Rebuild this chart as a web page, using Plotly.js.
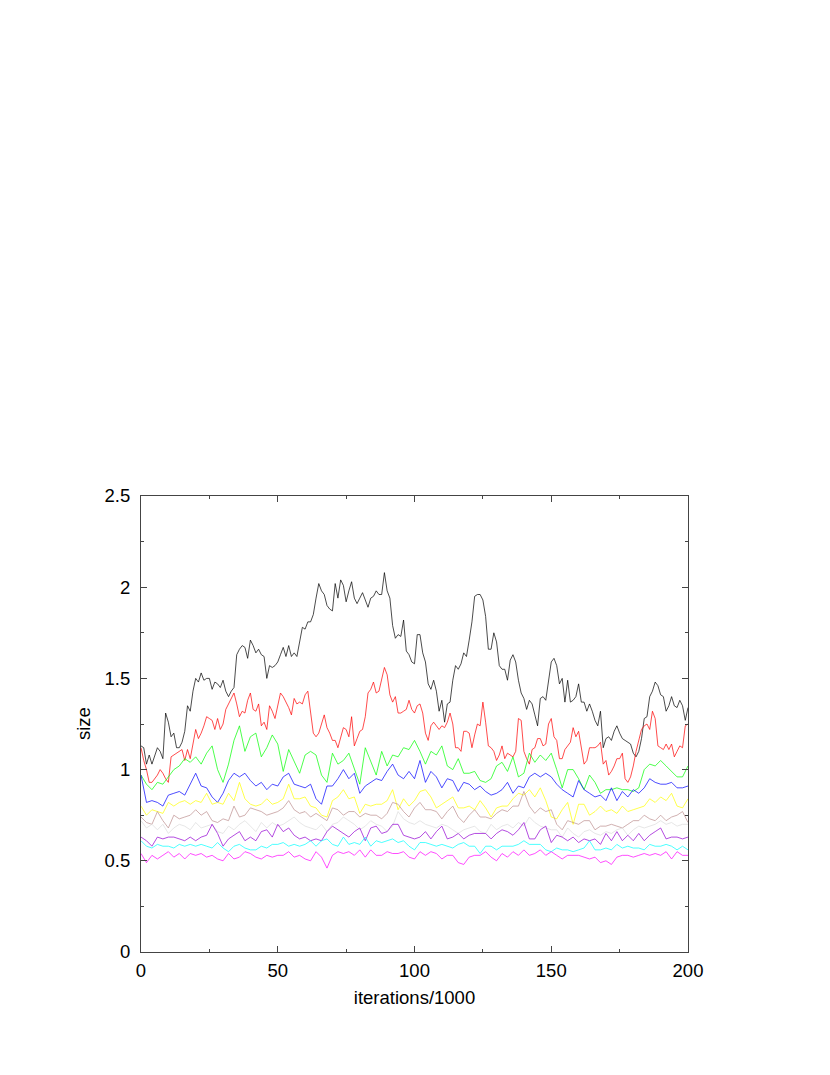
<!DOCTYPE html>
<html>
<head>
<meta charset="utf-8">
<script src="https://cdn.plot.ly/plotly-3.0.1.min.js"></script>
<style>html,body{margin:0;padding:0;background:#fff;}#chart{width:830px;height:1075px;}</style>
</head>
<body>
<div id="chart"></div>
<script>
// sampling: fine series every 1 (x1000 iterations), coarse series every 2
const fineStep = 1;
const coarseStep = 2;

const blackVals = [1.13,1.12,1.03,1.08,1.03,1.07,1.12,1.10,1.06,1.31,
1.26,1.18,1.20,1.12,1.12,1.15,1.21,1.35,1.32,1.43,
1.50,1.48,1.53,1.49,1.50,1.50,1.44,1.48,1.47,1.45,
1.49,1.43,1.40,1.43,1.45,1.63,1.66,1.68,1.67,1.61,
1.71,1.68,1.64,1.66,1.63,1.62,1.50,1.57,1.56,1.57,
1.59,1.63,1.67,1.62,1.68,1.62,1.64,1.62,1.70,1.78,
1.77,1.81,1.81,1.85,1.94,2.02,1.98,1.96,1.90,1.88,
1.87,2.02,1.94,2.04,2.01,1.92,1.98,2.03,1.94,1.91,
1.94,1.97,1.93,1.89,1.94,1.95,1.98,1.96,1.96,2.08,
1.98,1.94,1.79,1.72,1.74,1.73,1.82,1.65,1.63,1.59,
1.58,1.74,1.74,1.64,1.59,1.47,1.44,1.49,1.43,1.32,
1.38,1.26,1.36,1.37,1.49,1.57,1.55,1.58,1.64,1.62,
1.71,1.81,1.95,1.96,1.96,1.93,1.84,1.66,1.66,1.75,
1.70,1.57,1.55,1.55,1.49,1.60,1.63,1.59,1.49,1.42,
1.39,1.33,1.38,1.36,1.30,1.24,1.39,1.40,1.38,1.48,
1.59,1.61,1.57,1.47,1.50,1.37,1.49,1.37,1.38,1.40,
1.47,1.37,1.37,1.32,1.36,1.32,1.27,1.24,1.32,1.12,
1.17,1.18,1.16,1.21,1.24,1.20,1.17,1.16,1.15,1.14,
1.09,1.07,1.10,1.17,1.28,1.29,1.40,1.43,1.48,1.46,
1.41,1.40,1.32,1.35,1.40,1.35,1.34,1.38,1.35,1.27,
1.34];

const redVals = [1.12,1.05,1.00,0.93,0.93,0.95,0.97,1.00,0.98,0.95,
0.93,1.07,1.08,1.09,1.10,1.11,1.05,1.11,1.06,1.15,
1.22,1.17,1.20,1.24,1.29,1.28,1.27,1.22,1.28,1.22,
1.25,1.33,1.36,1.39,1.42,1.36,1.29,1.32,1.31,1.38,
1.42,1.33,1.32,1.36,1.24,1.26,1.22,1.35,1.32,1.28,
1.36,1.42,1.40,1.37,1.34,1.30,1.39,1.36,1.37,1.36,
1.41,1.43,1.30,1.20,1.18,1.20,1.25,1.30,1.23,1.20,
1.16,1.16,1.12,1.18,1.23,1.22,1.18,1.29,1.13,1.17,
1.21,1.22,1.29,1.42,1.44,1.48,1.42,1.43,1.50,1.56,
1.52,1.41,1.37,1.40,1.31,1.31,1.32,1.33,1.38,1.33,
1.31,1.35,1.36,1.31,1.20,1.16,1.24,1.26,1.24,1.22,
1.24,1.23,1.26,1.31,1.25,1.12,1.12,1.10,1.21,1.21,
1.20,1.12,1.19,1.25,1.24,1.37,1.26,1.13,1.12,1.10,
1.05,1.08,1.13,1.06,1.09,1.08,1.07,1.10,1.28,1.27,
1.10,1.06,1.03,1.11,1.12,1.17,1.17,1.13,1.14,1.25,
1.28,1.18,1.16,1.06,1.06,1.11,1.13,1.15,1.23,1.18,
1.21,1.12,1.03,1.05,1.12,1.12,1.12,1.13,1.15,1.03,
1.05,0.97,0.99,1.02,1.06,1.06,1.09,0.95,0.93,0.96,
1.02,1.10,1.16,1.22,1.24,1.25,1.22,1.32,1.28,1.13,
1.12,1.11,1.14,1.11,1.14,1.07,1.10,1.13,1.12,1.24,
1.25];

const greenVals = [0.97,0.92,0.89,0.93,0.92,0.96,1.00,1.02,1.06,1.04,1.07,1.03,1.09,1.13,1.00,0.93,1.03,1.16,1.24,1.10,1.18,1.20,1.07,1.12,1.19,1.14,
0.99,1.11,1.04,0.98,1.08,1.10,1.08,0.97,0.93,1.09,1.03,1.05,1.09,1.00,0.92,1.12,1.05,0.97,1.10,1.02,1.08,1.07,1.12,1.11,1.16,
1.10,1.03,1.10,1.08,1.13,1.02,1.00,1.06,0.98,0.98,0.99,0.94,0.93,0.95,1.02,1.04,0.99,1.07,0.96,0.98,1.09,1.04,1.08,1.05,1.09,
1.00,0.90,1.00,1.00,0.95,0.89,0.97,0.93,0.87,0.89,0.89,0.90,0.89,0.89,0.88,0.90,1.00,1.03,1.02,1.05,1.02,0.99,0.96,0.96,1.02];

const blueVals = [0.97,0.82,0.83,0.82,0.80,0.86,0.87,0.88,0.86,0.92,0.98,0.91,0.90,0.85,0.82,0.87,0.94,0.98,0.96,0.98,0.94,0.91,0.93,0.89,0.92,0.91,
0.96,0.98,0.92,0.91,0.90,0.92,0.84,0.81,0.91,0.91,0.95,1.00,0.95,0.98,0.87,0.91,0.93,0.95,0.94,0.99,1.03,0.97,0.95,0.99,0.95,
1.05,0.93,0.99,0.96,0.90,0.95,0.94,0.88,0.93,0.92,0.89,0.91,0.88,0.86,0.87,0.89,0.93,0.87,0.91,0.90,0.96,0.98,0.96,0.98,0.96,
0.92,0.89,0.87,0.85,0.94,0.89,0.87,0.85,0.86,0.83,0.90,0.83,0.88,0.85,0.89,0.87,0.90,0.95,0.93,0.92,0.92,0.93,0.90,0.90,0.91];

const yellowVals = [0.80,0.75,0.78,0.77,0.76,0.82,0.80,0.82,0.83,0.81,0.83,0.82,0.87,0.81,0.82,0.81,0.87,0.83,0.93,0.84,0.81,0.80,0.81,0.84,0.81,0.82,
0.84,0.92,0.84,0.84,0.85,0.80,0.79,0.75,0.74,0.83,0.85,0.89,0.84,0.85,0.76,0.81,0.80,0.81,0.81,0.83,0.89,0.78,0.84,0.80,0.83,
0.88,0.89,0.85,0.79,0.81,0.83,0.85,0.79,0.79,0.80,0.78,0.83,0.79,0.74,0.79,0.80,0.80,0.84,0.87,0.86,0.89,0.85,0.90,0.83,0.74,
0.73,0.78,0.82,0.70,0.81,0.81,0.75,0.77,0.80,0.77,0.78,0.76,0.80,0.77,0.78,0.79,0.80,0.84,0.82,0.85,0.83,0.87,0.80,0.79,0.84];

const brownVals = [0.74,0.71,0.70,0.77,0.72,0.68,0.75,0.73,0.74,0.75,0.78,0.75,0.77,0.72,0.71,0.73,0.72,0.80,0.74,0.75,0.79,0.78,0.77,0.75,0.76,0.77,
0.79,0.83,0.78,0.76,0.77,0.74,0.76,0.74,0.72,0.79,0.78,0.75,0.77,0.77,0.74,0.76,0.75,0.75,0.73,0.76,0.82,0.81,0.77,0.74,0.79,
0.82,0.78,0.78,0.77,0.73,0.77,0.80,0.74,0.71,0.75,0.78,0.74,0.74,0.73,0.76,0.78,0.77,0.80,0.80,0.88,0.80,0.76,0.79,0.77,0.78,
0.70,0.67,0.72,0.71,0.70,0.72,0.72,0.67,0.69,0.69,0.70,0.69,0.68,0.70,0.72,0.72,0.75,0.73,0.72,0.75,0.72,0.74,0.75,0.77,0.71];

const greyVals = [0.72,0.68,0.70,0.67,0.70,0.65,0.68,0.70,0.69,0.67,0.71,0.68,0.69,0.70,0.66,0.65,0.69,0.67,0.70,0.72,0.69,0.66,0.71,0.68,0.71,0.69,
0.70,0.72,0.74,0.71,0.69,0.68,0.67,0.70,0.66,0.70,0.71,0.74,0.72,0.70,0.67,0.69,0.72,0.70,0.69,0.66,0.69,0.77,0.73,0.71,0.70,
0.72,0.70,0.69,0.68,0.70,0.69,0.67,0.65,0.67,0.68,0.69,0.66,0.65,0.70,0.67,0.69,0.70,0.68,0.71,0.69,0.74,0.71,0.69,0.68,0.67,
0.67,0.63,0.68,0.65,0.63,0.66,0.67,0.65,0.64,0.66,0.65,0.67,0.68,0.64,0.67,0.69,0.68,0.69,0.70,0.72,0.70,0.71,0.69,0.70,0.70];

const violetVals = [0.63,0.61,0.58,0.63,0.62,0.63,0.63,0.62,0.61,0.63,0.61,0.63,0.64,0.70,0.65,0.58,0.62,0.64,0.66,0.61,0.63,0.61,0.66,0.67,0.63,0.70,
0.66,0.68,0.64,0.62,0.63,0.61,0.62,0.61,0.66,0.69,0.67,0.65,0.63,0.66,0.68,0.61,0.68,0.69,0.65,0.66,0.70,0.70,0.64,0.63,0.62,
0.63,0.66,0.62,0.66,0.69,0.62,0.63,0.65,0.62,0.64,0.65,0.65,0.65,0.62,0.65,0.67,0.66,0.64,0.67,0.71,0.62,0.62,0.67,0.69,0.60,
0.64,0.63,0.61,0.63,0.60,0.62,0.61,0.62,0.59,0.65,0.61,0.66,0.61,0.64,0.61,0.65,0.61,0.64,0.66,0.68,0.62,0.63,0.63,0.62,0.63];

const cyanVals = [0.61,0.58,0.57,0.59,0.58,0.58,0.57,0.59,0.58,0.59,0.58,0.59,0.58,0.57,0.60,0.57,0.55,0.58,0.59,0.57,0.56,0.56,0.58,0.57,0.59,0.59,
0.60,0.58,0.59,0.58,0.59,0.61,0.58,0.61,0.62,0.59,0.58,0.63,0.59,0.60,0.59,0.63,0.58,0.61,0.60,0.61,0.62,0.60,0.61,0.58,0.56,
0.60,0.60,0.59,0.58,0.59,0.58,0.57,0.59,0.60,0.58,0.58,0.54,0.58,0.58,0.56,0.58,0.58,0.58,0.59,0.61,0.59,0.59,0.59,0.56,0.55,
0.57,0.56,0.56,0.55,0.56,0.57,0.61,0.56,0.56,0.57,0.56,0.59,0.57,0.58,0.57,0.57,0.56,0.59,0.58,0.58,0.59,0.58,0.56,0.58,0.56];

const magentaVals = [0.54,0.49,0.53,0.51,0.53,0.55,0.52,0.54,0.51,0.54,0.53,0.54,0.52,0.53,0.51,0.50,0.54,0.51,0.52,0.55,0.54,0.52,0.51,0.53,0.52,0.53,
0.53,0.55,0.52,0.53,0.51,0.50,0.55,0.52,0.46,0.53,0.55,0.54,0.55,0.53,0.56,0.52,0.56,0.53,0.53,0.55,0.54,0.54,0.55,0.52,0.51,
0.55,0.53,0.55,0.54,0.51,0.53,0.53,0.49,0.48,0.52,0.53,0.53,0.55,0.52,0.50,0.54,0.52,0.55,0.53,0.56,0.53,0.54,0.56,0.53,0.55,
0.53,0.51,0.53,0.53,0.53,0.52,0.51,0.52,0.49,0.50,0.48,0.52,0.53,0.53,0.52,0.53,0.54,0.53,0.54,0.53,0.55,0.51,0.55,0.53,0.53];

const xTickVals = [0, 50, 100, 150, 200];
const xTickText = ["0", "50", "100", "150", "200"];
const yTickVals = [0, 0.5, 1, 1.5, 2, 2.5];
const yTickText = ["0", "0.5", "1", "1.5", "2", "2.5"];

const seriesList = [
  {y: blackVals, dx: fineStep, color: '#000000'},
  {y: redVals, dx: fineStep, color: '#ff0000'},
  {y: greenVals, dx: coarseStep, color: '#00ff00'},
  {y: blueVals, dx: coarseStep, color: '#0000ff'},
  {y: yellowVals, dx: coarseStep, color: '#ffff00'},
  {y: brownVals, dx: coarseStep, color: '#bc8f8f'},
  {y: greyVals, dx: coarseStep, color: '#dcdcdc'},
  {y: violetVals, dx: coarseStep, color: '#9400d3'},
  {y: cyanVals, dx: coarseStep, color: '#00ffff'},
  {y: magentaVals, dx: coarseStep, color: '#ff00ff'}
];

const traces = seriesList.map(s => ({
  type: 'scatter', mode: 'lines', y: s.y, x0: 0, dx: s.dx,
  opacity: 0.7,
  line: {color: s.color, width: 1}, hoverinfo: 'skip'
}));

const fontFam = '"Liberation Sans", Arial, Helvetica, sans-serif';
const axisCommon = {
  showgrid: false, zeroline: false, showline: true, linecolor: '#444', linewidth: 1,
  mirror: 'allticks', ticks: 'inside', ticklen: 6, tickwidth: 1, tickcolor: '#444',
  tickfont: {family: fontFam, size: 18.5, color: '#000'}
};

const layout = {
  width: 830, height: 1075,
  margin: {l: 141, r: 142, t: 496, b: 123, pad: 0},
  paper_bgcolor: '#fff', plot_bgcolor: '#fff',
  showlegend: false,
  font: {family: fontFam, color: '#000'},
  xaxis: Object.assign({}, axisCommon, {
    range: [0, 200], tickmode: 'array', tickvals: xTickVals, ticktext: xTickText,
    ticklabelstandoff: 2,
    minor: {dtick: 25, tick0: 0, ticks: 'inside', ticklen: 3, tickcolor: '#444', tickwidth: 1},
    title: {text: 'iterations/1000', font: {family: fontFam, size: 18.5, color: '#000'}, standoff: 10}
  }),
  yaxis: Object.assign({}, axisCommon, {
    range: [0, 2.5], tickmode: 'array', tickvals: yTickVals, ticktext: yTickText,
    ticklabelstandoff: 6,
    minor: {dtick: 0.25, tick0: 0, ticks: 'inside', ticklen: 3, tickcolor: '#444', tickwidth: 1}
  }),
  annotations: [{
    text: 'size', xref: 'paper', yref: 'paper', x: -0.106, y: 0.5,
    xanchor: 'center', yanchor: 'middle', textangle: -90, showarrow: false,
    font: {family: fontFam, size: 18.5, color: '#000'}
  }]
};

Plotly.newPlot('chart', traces, layout, {staticPlot: true, displayModeBar: false});
</script>
</body>
</html>
